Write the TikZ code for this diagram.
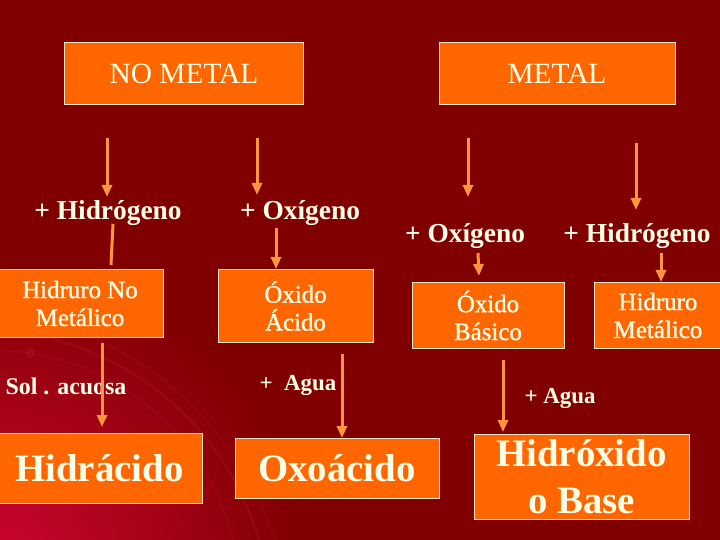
\documentclass[tikz,border=0pt]{standalone}
\usepackage{fontspec}
\setmainfont{Liberation Serif}
\newfontfamily\semibold[FakeBold=1.2]{Liberation Serif}
\usetikzlibrary{arrows.meta}
\definecolor{bgred}{RGB}{128,0,0}
\definecolor{glow}{RGB}{205,5,50}
\definecolor{swoosh}{RGB}{215,60,90}
\definecolor{boxor}{RGB}{255,102,0}
\definecolor{arrowor}{RGB}{255,150,60}
\definecolor{txt}{RGB}{255,255,232}
\definecolor{edge}{RGB}{255,232,200}
\begin{document}
\begin{tikzpicture}[x=1bp,y=-1bp,
  box/.style={draw=edge, line width=1bp, fill=boxor, text=txt, inner sep=0pt, align=center},
  headfont/.style={font=\fontsize{29.5}{33}\selectfont},
  midfont/.style={font=\semibold\fontsize{25}{28}\selectfont},
  bigfont/.style={font=\bfseries\fontsize{39}{47}\selectfont},
  lbl/.style={text=txt, inner sep=0pt, font=\bfseries\fontsize{27.5}{31}\selectfont},
  smalllbl/.style={text=txt, inner sep=0pt, font=\bfseries\fontsize{23}{27}\selectfont},
  flow/.style={draw=arrowor, line width=3bp, -{Triangle[width=10bp,length=12bp]}},
  stub/.style={draw=arrowor, line width=3bp},
  ]
\useasboundingbox (0,0) rectangle (720,540);
\begin{scope}
\clip (0,0) rectangle (720,540);
% background
\fill[bgred] (0,0) rectangle (720,540);
\shade[inner color=glow, outer color=bgred] (0,565) circle (300);
\draw[swoosh, opacity=0.15, line width=2bp] (-20,620) circle (290);
\draw[swoosh, opacity=0.10, line width=1.5bp] (-40,640) circle (330);
\draw[swoosh, opacity=0.10, line width=1.5bp] (-10,600) circle (250);
\fill[swoosh, opacity=0.15] (30,353) circle (5);

% top boxes
\node[box, headfont, minimum width=238bp, minimum height=62bp] (nometal) at (184,74) {NO METAL};
\node[box, headfont, minimum width=236bp, minimum height=62bp] (metal) at (557,74) {METAL};

% reagent labels
\node[lbl] (h1) at (108,213) {+ Hidrógeno};
\node[lbl] (o1) at (300,213) {+ Oxígeno};
\node[lbl] (o2) at (465,236) {+ Oxígeno};
\node[lbl] (h2) at (637,236) {+ Hidrógeno};

% middle boxes
\node[box, midfont, minimum width=166bp, minimum height=67bp] (hnm) at (80,303.5) {Hidruro No\\Metálico};
\node[box, midfont, minimum width=155bp, minimum height=72bp] (oxa) at (295.5,306) {Óxido\\Ácido};
\node[box, midfont, minimum width=152bp, minimum height=65bp] (oxb) at (488,315.5) {Óxido\\Básico};
\node[box, midfont, minimum width=128bp, minimum height=65bp] (hm) at (658,315.5) {Hidruro\\Metálico};

% lower labels
\node[smalllbl, font=\bfseries\fontsize{24}{28}\selectfont] (sol) at (66,386) {Sol . acuosa};
\node[smalllbl] (ag1) at (298,385) {+~~Agua};
\node[smalllbl] (ag2) at (560,398) {+ Agua};

% bottom boxes
\node[box, bigfont, minimum width=205bp, minimum height=70bp] (hac) at (99.5,468) {Hidrácido};
\node[box, bigfont, minimum width=204bp, minimum height=60bp] (oxo) at (337,468) {Oxoácido};
\node[box, bigfont, minimum width=215bp, minimum height=85bp] (hidrox) at (581.5,476.5) {Hidróxido\\o Base};

% arrow end points
\coordinate (a1s) at (107,138); \coordinate (a1e) at (107,197);
\coordinate (a2s) at (257,138); \coordinate (a2e) at (257,195);
\coordinate (a3s) at (468,138); \coordinate (a3e) at (468,197);
\coordinate (a4s) at (636,143); \coordinate (a4e) at (636,210);
\coordinate (l1s) at (113,224); \coordinate (l1e) at (111,265);
\coordinate (a5s) at (276,228); \coordinate (a5e) at (276,269);
\coordinate (a6s) at (478,253); \coordinate (a6e) at (479,276);
\coordinate (a7s) at (661,253); \coordinate (a7e) at (661,282);
\coordinate (a8s) at (102,343); \coordinate (a8e) at (102,427);
\coordinate (a9s) at (342,354); \coordinate (a9e) at (342,438);
\coordinate (a10s) at (503,360); \coordinate (a10e) at (503,432);

% connectors
\draw[flow] (a1s) -- (a1e);
\draw[flow] (a2s) -- (a2e);
\draw[flow] (a3s) -- (a3e);
\draw[flow] (a4s) -- (a4e);
\draw[stub] (l1s) -- (l1e);
\draw[flow] (a5s) -- (a5e);
\draw[flow] (a6s) -- (a6e);
\draw[flow] (a7s) -- (a7e);
\draw[flow] (a8s) -- (a8e);
\draw[flow] (a9s) -- (a9e);
\draw[flow] (a10s) -- (a10e);
\end{scope}
\end{tikzpicture}
\end{document}
